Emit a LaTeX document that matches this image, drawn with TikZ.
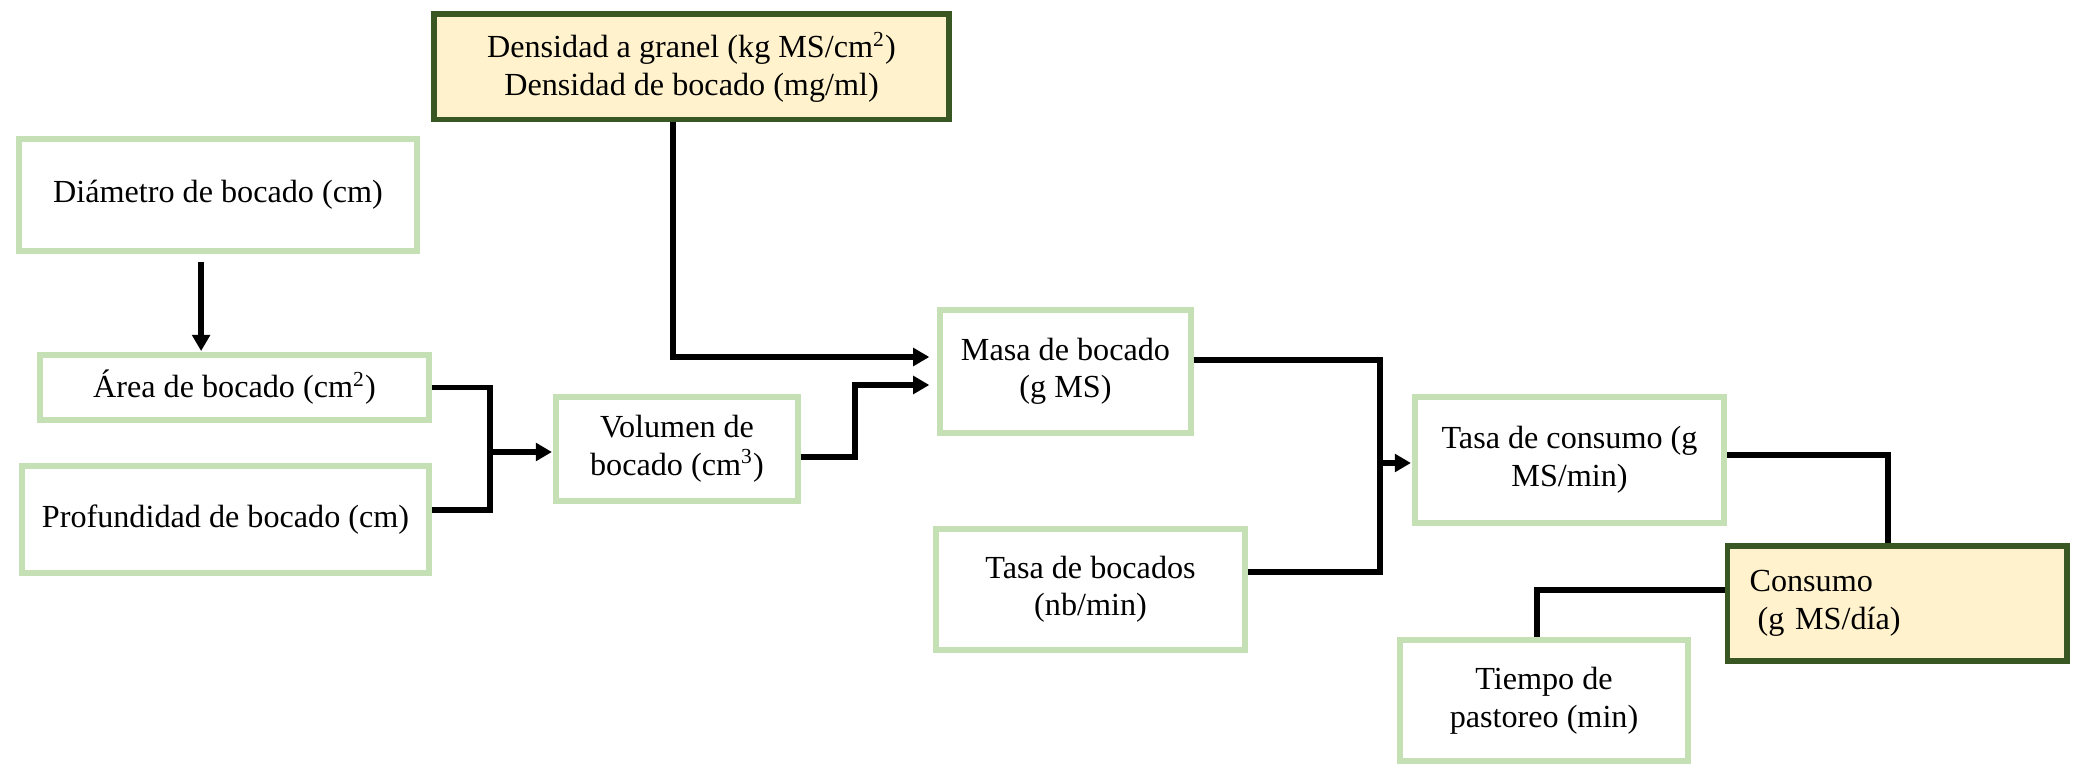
\documentclass[tikz,border=0pt]{standalone}
\usepackage{fontspec}
\setmainfont{Liberation Serif}
\usetikzlibrary{calc}
\usetikzlibrary{arrows.meta}

\definecolor{boxgreen}{RGB}{197,224,180}
\definecolor{darkgreen}{RGB}{56,87,35}
\definecolor{lightyellow}{RGB}{255,242,204}

\tikzset{
  varbox/.style={draw=boxgreen, line width=2pt, fill=white, align=center, font=\fontsize{12}{14}\selectfont},
  keybox/.style={draw=darkgreen, line width=1.9pt, fill=lightyellow, align=center, font=\fontsize{12}{14}\selectfont},
  link/.style={line width=2pt, black},
  arr/.style={link, -{Triangle[length=6pt,width=6.5pt]}, shorten >=3pt}
}

\begin{document}
\begin{tikzpicture}[x=0.373pt, y=-0.373pt]
\useasboundingbox (0,0) rectangle (2073,768);

% Densidad
\node [keybox, minimum width=192.1pt, minimum height=39.5pt] (dens) at (691.5,67) {Densidad a granel (kg MS/cm\textsuperscript{2})\\Densidad de bocado (mg/ml)};

% bocado: diametro, area, profundidad
\node [varbox, minimum width=148.5pt, minimum height=41.8pt] (diam) at (218,195) {Diámetro de bocado (cm)};
\node [varbox, minimum width=145.1pt, minimum height=24.2pt] (area) at (234.5,387.5) {Área de bocado (cm\textsuperscript{2})};
\node [varbox, minimum width=151.8pt, minimum height=39.9pt] (prof) at (225.5,519.5) {Profundidad de bocado (cm)};

% Volumen, Masa
\node [varbox, minimum width=90.3pt, minimum height=38.8pt] (vol) at (677,449) {Volumen de\\bocado (cm\textsuperscript{3})};
\node [varbox, minimum width=93.6pt, minimum height=45.9pt] (masa) at (1065.5,371.5) {Masa de bocado\\(g MS)};

% Tasas
\node [varbox, minimum width=115.3pt, minimum height=45.1pt] (tbocs) at (1090.5,589.5) {Tasa de bocados\\(nb/min)};
\node [varbox, minimum width=115.3pt, minimum height=47pt] (tcons) at (1569.5,460) {Tasa de consumo (g\\MS/min)};

% Consumo, Tiempo
\node [keybox, align=left, text width=110pt, inner xsep=8pt, minimum width=126.8pt, minimum height=42.9pt] (cons) at (1897,603.5) {Consumo\\\hspace*{0.25em}(g MS/día)};
\node [varbox, minimum width=107.4pt, minimum height=45.1pt] (tiempo) at (1544,700.5) {Tiempo de\\pastoreo (min)};

% junctions
\coordinate (j1) at (490,452);
\coordinate (j2) at (855,385);
\coordinate (j3) at (673,357);
\coordinate (j4) at (1380,463);

% Diametro -> Area
\draw [arr, shorten >=0.5pt] ([xshift=-6.3pt, yshift=-3pt]diam.south) -- ([xshift=-6.3pt]diam.south |- area.north);

% Area + Profundidad -> Volumen
\draw [link] (area.east) -| (j1) |- ([yshift=3.5pt]prof.east);
\draw [arr, shorten >=0.5pt] (j1) -- (j1 -| vol.west);

% Volumen -> Masa
\draw [arr] ([yshift=-3pt]vol.east) -| (j2) -- (j2 -| masa.west);

% Densidad -> Masa
\draw [arr] (dens.south -| j3) -- (j3) -- (j3 -| masa.west);

% Masa + Tasa de bocados -> Tasa de consumo
\draw [link] ([yshift=4.3pt]masa.east) -| (j4) |- ([yshift=6.5pt]tbocs.east);
\draw [arr, shorten >=0.5pt] (j4) -- (j4 -| tcons.west);

% Consumo
\draw [link] ([yshift=1.9pt]tcons.east) -| ([xshift=-3.4pt]cons.north);
\draw [link] ([yshift=5pt]cons.west) -| ([xshift=-2.6pt]tiempo.north);
\end{tikzpicture}
\end{document}
